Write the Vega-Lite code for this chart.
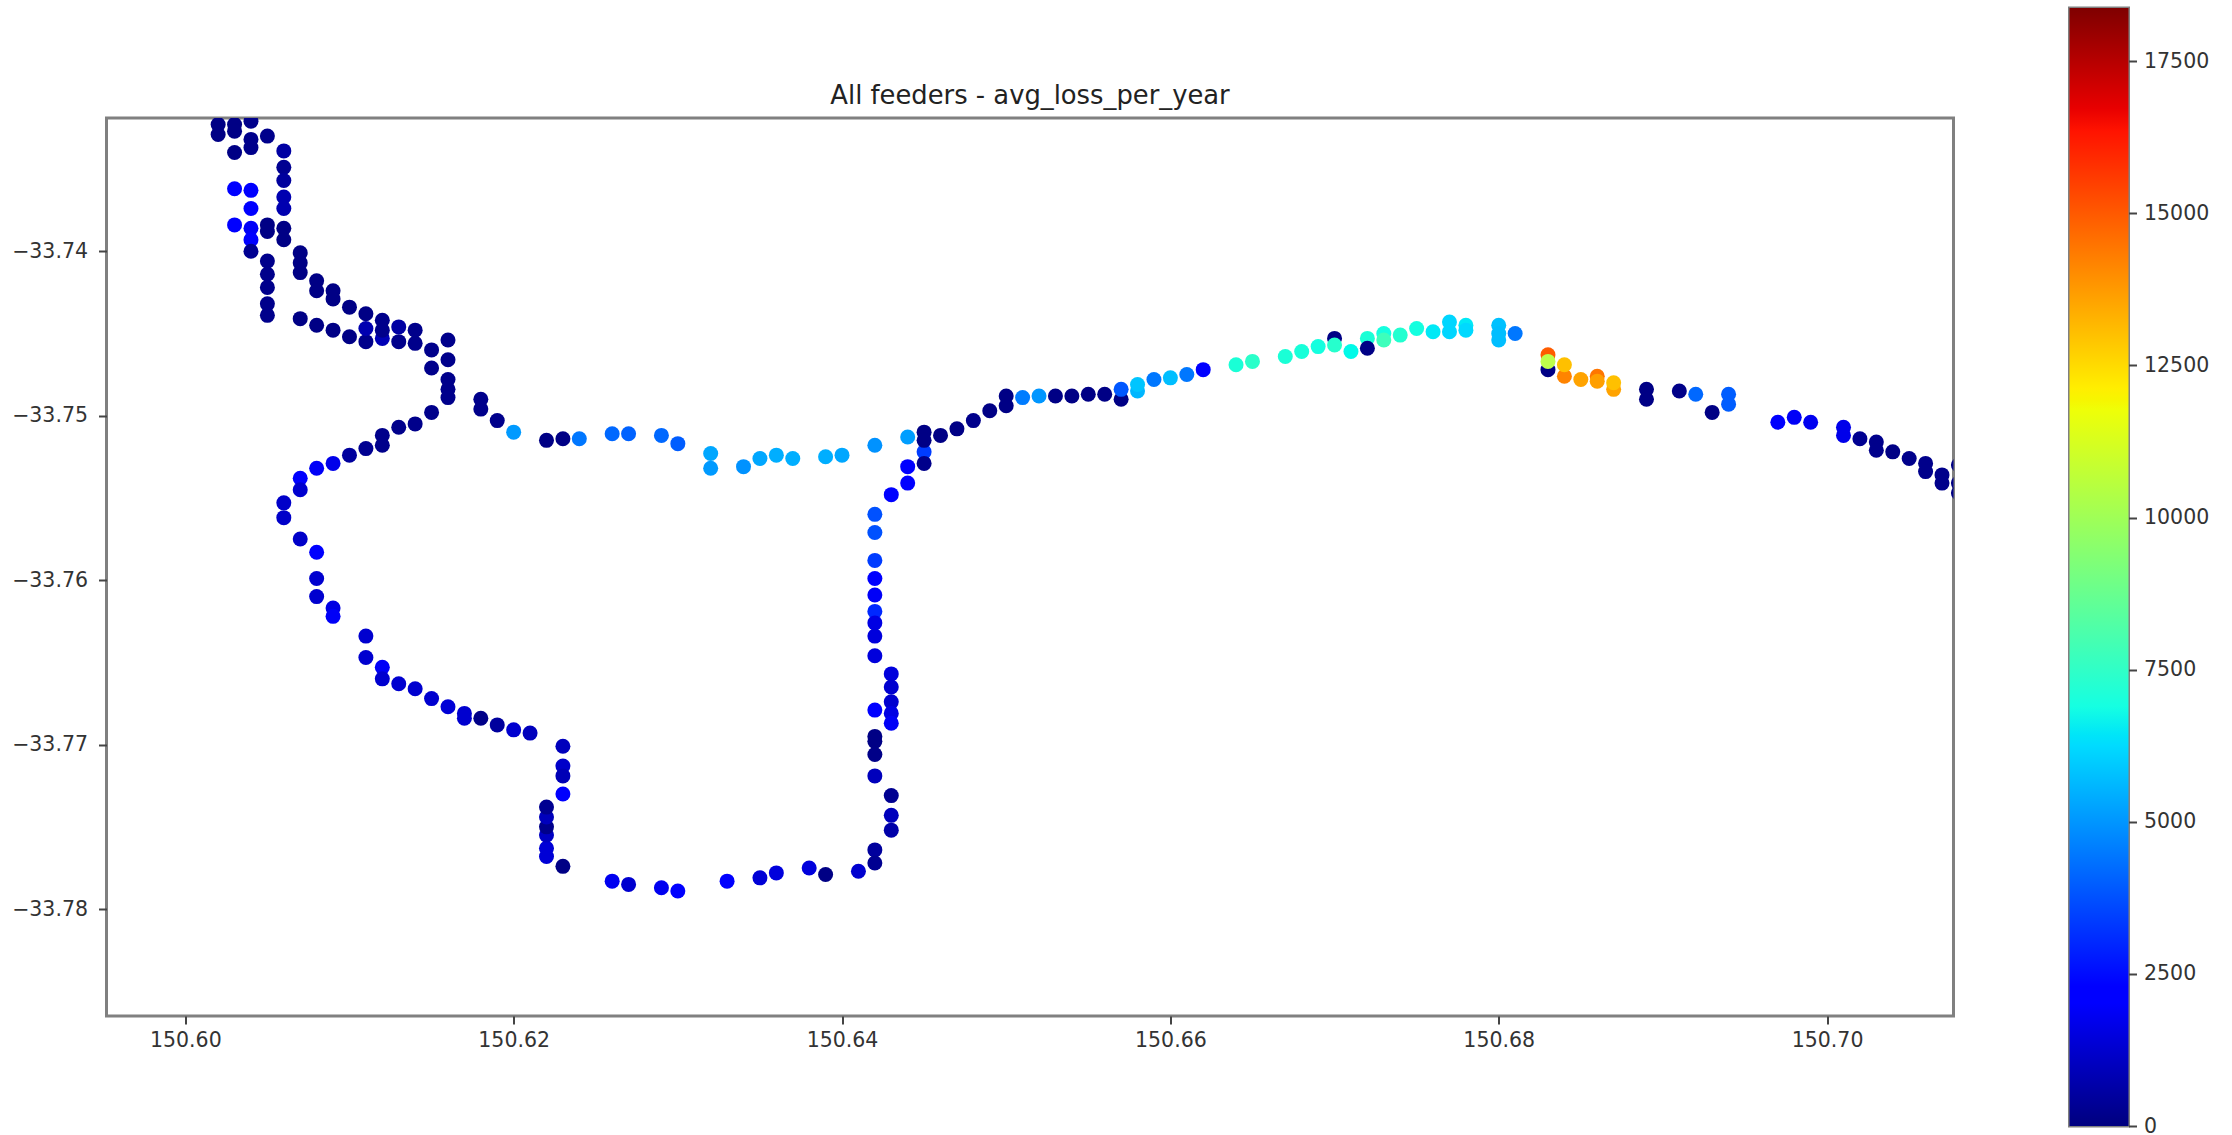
{"$schema":"https://vega.github.io/schema/vega-lite/v6.json","background":"white","padding":{"left":9.5,"top":6,"right":0,"bottom":0},"bounds":"flush","spacing":116,"center":true,"config":{"font":"DejaVu Sans","view":{"stroke":"#808080","strokeWidth":3},"axis":{"grid":false,"domain":false,"tickColor":"#444","tickWidth":2,"tickSize":8,"labelFontSize":20.5,"labelColor":"#333","labelFont":"DejaVu Sans","title":null,"labelPadding":7}},"hconcat":[{"width":1847,"height":898,"title":{"text":"All feeders - avg_loss_per_year","fontSize":25.8,"fontWeight":"normal","font":"DejaVu Sans","color":"#222","anchor":"middle","offset":8},"data":{"name":"pts"},"mark":{"type":"circle","size":225,"opacity":1,"clip":true},"encoding":{"x":{"field":"lon","type":"quantitative","scale":{"domain":[150.5952,150.7077],"nice":false,"zero":false},"axis":{"values":[150.6,150.62,150.64,150.66,150.68,150.7],"format":".2f","labelPadding":6}},"y":{"field":"lat","type":"quantitative","scale":{"domain":[-33.7865,-33.7319],"nice":false,"zero":false},"axis":{"values":[-33.74,-33.75,-33.76,-33.77,-33.78],"format":".2f","labelPadding":11}},"color":{"field":"loss","type":"quantitative","legend":null,"scale":{"domain":[0,2021,2297,6248,6431,6891,11760,11944,12128,16354,16721,18375],"range":["#00007f","#0000ff","#0000ff","#00dbff","#00e5f8","#15ffe2","#eeff08","#f7f500","#ffee00","#ff1300","#e80000","#7f0000"]}}}},{"width":59,"height":1118,"data":{"values":[{"lo":0,"hi":18375}]},"mark":{"type":"rect","fill":{"gradient":"linear","x1":0,"y1":1,"x2":0,"y2":0,"stops":[{"offset":0,"color":"#00007f"},{"offset":0.11,"color":"#0000ff"},{"offset":0.125,"color":"#0000ff"},{"offset":0.34,"color":"#00dbff"},{"offset":0.35,"color":"#00e5f8"},{"offset":0.375,"color":"#15ffe2"},{"offset":0.64,"color":"#eeff08"},{"offset":0.65,"color":"#f7f500"},{"offset":0.66,"color":"#ffee00"},{"offset":0.89,"color":"#ff1300"},{"offset":0.91,"color":"#e80000"},{"offset":1,"color":"#7f0000"}]}},"encoding":{"y":{"field":"lo","type":"quantitative","scale":{"domain":[0,18375],"nice":false,"zero":false},"axis":{"orient":"right","values":[0,2500,5000,7500,10000,12500,15000,17500],"format":"d"}},"y2":{"field":"hi"}}}],"datasets":{"pts":[
{"lon":150.602,"lat":-33.7323,"loss":100},{"lon":150.602,"lat":-33.7329,"loss":100},{"lon":150.603,"lat":-33.7323,"loss":100},{"lon":150.603,"lat":-33.7327,"loss":100},{"lon":150.603,"lat":-33.734,"loss":100},{"lon":150.603,"lat":-33.7362,"loss":2200},{"lon":150.603,"lat":-33.7384,"loss":2100},
{"lon":150.604,"lat":-33.7321,"loss":200},{"lon":150.604,"lat":-33.7332,"loss":200},{"lon":150.604,"lat":-33.7337,"loss":200},{"lon":150.604,"lat":-33.7363,"loss":2100},{"lon":150.604,"lat":-33.7374,"loss":2100},{"lon":150.604,"lat":-33.7386,"loss":1900},{"lon":150.604,"lat":-33.7393,"loss":2100},{"lon":150.604,"lat":-33.74,"loss":300},
{"lon":150.605,"lat":-33.733,"loss":200},{"lon":150.605,"lat":-33.7384,"loss":100},{"lon":150.605,"lat":-33.7388,"loss":100},{"lon":150.605,"lat":-33.7406,"loss":200},{"lon":150.605,"lat":-33.7414,"loss":200},{"lon":150.605,"lat":-33.7422,"loss":200},{"lon":150.605,"lat":-33.7432,"loss":200},{"lon":150.605,"lat":-33.7439,"loss":200},
{"lon":150.606,"lat":-33.7339,"loss":600},{"lon":150.606,"lat":-33.7349,"loss":300},{"lon":150.606,"lat":-33.7357,"loss":500},{"lon":150.606,"lat":-33.7367,"loss":800},{"lon":150.606,"lat":-33.7374,"loss":800},{"lon":150.606,"lat":-33.7386,"loss":100},{"lon":150.606,"lat":-33.7393,"loss":100},
{"lon":150.607,"lat":-33.7401,"loss":100},{"lon":150.607,"lat":-33.7407,"loss":100},{"lon":150.607,"lat":-33.7413,"loss":100},{"lon":150.607,"lat":-33.7441,"loss":100},{"lon":150.608,"lat":-33.7418,"loss":100},{"lon":150.608,"lat":-33.7424,"loss":100},{"lon":150.608,"lat":-33.7445,"loss":100},{"lon":150.609,"lat":-33.7424,"loss":100},{"lon":150.609,"lat":-33.7429,"loss":100},{"lon":150.609,"lat":-33.7448,"loss":100},
{"lon":150.61,"lat":-33.7434,"loss":100},{"lon":150.61,"lat":-33.7452,"loss":100},{"lon":150.611,"lat":-33.7438,"loss":100},{"lon":150.611,"lat":-33.7455,"loss":200},{"lon":150.611,"lat":-33.7447,"loss":800},{"lon":150.612,"lat":-33.7453,"loss":900},{"lon":150.612,"lat":-33.7442,"loss":200},{"lon":150.612,"lat":-33.7448,"loss":200},{"lon":150.613,"lat":-33.7455,"loss":200},{"lon":150.613,"lat":-33.7446,"loss":600},{"lon":150.614,"lat":-33.7448,"loss":200},{"lon":150.614,"lat":-33.7456,"loss":200},
{"lon":150.615,"lat":-33.746,"loss":200},{"lon":150.615,"lat":-33.7471,"loss":200},{"lon":150.616,"lat":-33.7454,"loss":200},{"lon":150.616,"lat":-33.7466,"loss":200},{"lon":150.616,"lat":-33.7478,"loss":200},{"lon":150.616,"lat":-33.7484,"loss":200},{"lon":150.616,"lat":-33.7489,"loss":200},{"lon":150.618,"lat":-33.749,"loss":200},{"lon":150.618,"lat":-33.7496,"loss":200},{"lon":150.619,"lat":-33.7503,"loss":200},
{"lon":150.62,"lat":-33.751,"loss":4500},{"lon":150.622,"lat":-33.7515,"loss":100},{"lon":150.623,"lat":-33.7514,"loss":100},{"lon":150.624,"lat":-33.7514,"loss":3700},{"lon":150.626,"lat":-33.7511,"loss":3400},{"lon":150.627,"lat":-33.7511,"loss":3300},{"lon":150.629,"lat":-33.7512,"loss":3400},{"lon":150.63,"lat":-33.7517,"loss":3200},{"lon":150.632,"lat":-33.7523,"loss":4800},{"lon":150.632,"lat":-33.7532,"loss":4500},{"lon":150.634,"lat":-33.7531,"loss":4300},{"lon":150.635,"lat":-33.7526,"loss":4800},{"lon":150.636,"lat":-33.7524,"loss":5000},{"lon":150.637,"lat":-33.7526,"loss":5000},{"lon":150.639,"lat":-33.7525,"loss":5000},{"lon":150.64,"lat":-33.7524,"loss":4800},{"lon":150.642,"lat":-33.7518,"loss":4300},{"lon":150.644,"lat":-33.7513,"loss":4600},
{"lon":150.645,"lat":-33.7522,"loss":2700},{"lon":150.645,"lat":-33.751,"loss":100},{"lon":150.645,"lat":-33.7515,"loss":100},{"lon":150.645,"lat":-33.7529,"loss":200},{"lon":150.646,"lat":-33.7512,"loss":100},{"lon":150.647,"lat":-33.7508,"loss":100},{"lon":150.648,"lat":-33.7503,"loss":200},{"lon":150.649,"lat":-33.7497,"loss":100},
{"lon":150.644,"lat":-33.7531,"loss":2200},{"lon":150.644,"lat":-33.7541,"loss":2200},{"lon":150.643,"lat":-33.7548,"loss":2300},{"lon":150.642,"lat":-33.756,"loss":3000},{"lon":150.642,"lat":-33.7571,"loss":3000},{"lon":150.642,"lat":-33.7588,"loss":2700},{"lon":150.642,"lat":-33.7599,"loss":2100},{"lon":150.642,"lat":-33.7609,"loss":1900},{"lon":150.642,"lat":-33.7619,"loss":2500},{"lon":150.642,"lat":-33.7626,"loss":1600},{"lon":150.642,"lat":-33.7634,"loss":1500},{"lon":150.642,"lat":-33.7646,"loss":1500},
{"lon":150.643,"lat":-33.7657,"loss":1500},{"lon":150.643,"lat":-33.7665,"loss":1300},{"lon":150.643,"lat":-33.7674,"loss":1300},{"lon":150.643,"lat":-33.7681,"loss":1600},{"lon":150.643,"lat":-33.7687,"loss":1900},{"lon":150.642,"lat":-33.7679,"loss":2200},{"lon":150.642,"lat":-33.7695,"loss":100},{"lon":150.642,"lat":-33.7698,"loss":100},{"lon":150.642,"lat":-33.7706,"loss":150},{"lon":150.642,"lat":-33.7719,"loss":1000},{"lon":150.643,"lat":-33.7731,"loss":300},{"lon":150.643,"lat":-33.7743,"loss":1000},{"lon":150.643,"lat":-33.7752,"loss":700},{"lon":150.642,"lat":-33.7764,"loss":500},{"lon":150.642,"lat":-33.7772,"loss":300},{"lon":150.641,"lat":-33.7777,"loss":1300},{"lon":150.639,"lat":-33.7779,"loss":100},{"lon":150.638,"lat":-33.7775,"loss":1500},{"lon":150.636,"lat":-33.7778,"loss":1500},{"lon":150.635,"lat":-33.7781,"loss":1400},{"lon":150.633,"lat":-33.7783,"loss":2000},{"lon":150.63,"lat":-33.7789,"loss":2100},{"lon":150.629,"lat":-33.7787,"loss":1800},{"lon":150.627,"lat":-33.7785,"loss":1300},{"lon":150.626,"lat":-33.7783,"loss":1800},{"lon":150.623,"lat":-33.7774,"loss":100},
{"lon":150.622,"lat":-33.7768,"loss":1400},{"lon":150.622,"lat":-33.7763,"loss":1400},{"lon":150.622,"lat":-33.7755,"loss":1100},{"lon":150.622,"lat":-33.775,"loss":200},{"lon":150.622,"lat":-33.7744,"loss":1000},{"lon":150.622,"lat":-33.7738,"loss":300},{"lon":150.623,"lat":-33.7701,"loss":1000},{"lon":150.623,"lat":-33.7713,"loss":1200},{"lon":150.623,"lat":-33.7719,"loss":900},{"lon":150.623,"lat":-33.773,"loss":2000},
{"lon":150.615,"lat":-33.7498,"loss":200},{"lon":150.614,"lat":-33.7505,"loss":200},{"lon":150.613,"lat":-33.7507,"loss":200},{"lon":150.612,"lat":-33.7512,"loss":200},{"lon":150.612,"lat":-33.7518,"loss":200},{"lon":150.611,"lat":-33.752,"loss":300},{"lon":150.61,"lat":-33.7524,"loss":500},{"lon":150.609,"lat":-33.7529,"loss":1700},{"lon":150.608,"lat":-33.7532,"loss":1900},{"lon":150.607,"lat":-33.7538,"loss":2000},{"lon":150.607,"lat":-33.7545,"loss":1300},{"lon":150.606,"lat":-33.7553,"loss":1200},{"lon":150.606,"lat":-33.7562,"loss":1200},{"lon":150.607,"lat":-33.7575,"loss":1200},{"lon":150.608,"lat":-33.7583,"loss":2000},{"lon":150.608,"lat":-33.7599,"loss":1300},{"lon":150.608,"lat":-33.761,"loss":1300},{"lon":150.609,"lat":-33.7617,"loss":1600},{"lon":150.609,"lat":-33.7622,"loss":1900},{"lon":150.611,"lat":-33.7634,"loss":1300},{"lon":150.611,"lat":-33.7647,"loss":1300},{"lon":150.612,"lat":-33.7653,"loss":1900},{"lon":150.612,"lat":-33.766,"loss":1300},{"lon":150.613,"lat":-33.7663,"loss":1300},{"lon":150.614,"lat":-33.7666,"loss":1300},{"lon":150.615,"lat":-33.7672,"loss":1300},{"lon":150.616,"lat":-33.7677,"loss":1400},{"lon":150.617,"lat":-33.7681,"loss":1300},{"lon":150.617,"lat":-33.7684,"loss":1300},{"lon":150.618,"lat":-33.7684,"loss":150},{"lon":150.619,"lat":-33.7688,"loss":500},{"lon":150.62,"lat":-33.7691,"loss":1300},{"lon":150.621,"lat":-33.7693,"loss":1000},
{"lon":150.65,"lat":-33.7488,"loss":100},{"lon":150.65,"lat":-33.7494,"loss":100},{"lon":150.651,"lat":-33.7489,"loss":3800},{"lon":150.652,"lat":-33.7488,"loss":4400},{"lon":150.653,"lat":-33.7488,"loss":100},{"lon":150.654,"lat":-33.7488,"loss":100},{"lon":150.655,"lat":-33.7487,"loss":100},{"lon":150.656,"lat":-33.7487,"loss":100},{"lon":150.657,"lat":-33.749,"loss":100},{"lon":150.657,"lat":-33.7484,"loss":3100},{"lon":150.658,"lat":-33.7485,"loss":5200},{"lon":150.658,"lat":-33.7481,"loss":5600},{"lon":150.659,"lat":-33.7478,"loss":3700},{"lon":150.66,"lat":-33.7477,"loss":5400},{"lon":150.661,"lat":-33.7475,"loss":3700},{"lon":150.662,"lat":-33.7472,"loss":2200},{"lon":150.664,"lat":-33.7469,"loss":7300},{"lon":150.665,"lat":-33.7467,"loss":7700},{"lon":150.667,"lat":-33.7464,"loss":7300},{"lon":150.668,"lat":-33.7461,"loss":7200},{"lon":150.669,"lat":-33.7458,"loss":7000},{"lon":150.67,"lat":-33.7453,"loss":100},{"lon":150.67,"lat":-33.7457,"loss":7600},{"lon":150.671,"lat":-33.7461,"loss":6800},{"lon":150.672,"lat":-33.7453,"loss":7300},{"lon":150.672,"lat":-33.7459,"loss":100},{"lon":150.673,"lat":-33.745,"loss":7000},{"lon":150.673,"lat":-33.7454,"loss":8100},{"lon":150.674,"lat":-33.7451,"loss":7500},{"lon":150.675,"lat":-33.7447,"loss":7000},{"lon":150.676,"lat":-33.7449,"loss":6500},{"lon":150.677,"lat":-33.7443,"loss":6100},{"lon":150.677,"lat":-33.7449,"loss":6100},{"lon":150.678,"lat":-33.7445,"loss":6500},{"lon":150.678,"lat":-33.7448,"loss":6200},
{"lon":150.68,"lat":-33.7445,"loss":5500},{"lon":150.68,"lat":-33.745,"loss":5400},{"lon":150.68,"lat":-33.7454,"loss":5400},{"lon":150.681,"lat":-33.745,"loss":3700},{"lon":150.683,"lat":-33.7463,"loss":15500},{"lon":150.683,"lat":-33.7472,"loss":100},{"lon":150.683,"lat":-33.7467,"loss":10800},{"lon":150.684,"lat":-33.7476,"loss":14700},{"lon":150.684,"lat":-33.7469,"loss":13300},{"lon":150.685,"lat":-33.7478,"loss":14000},{"lon":150.686,"lat":-33.7476,"loss":15000},{"lon":150.686,"lat":-33.7479,"loss":14100},{"lon":150.687,"lat":-33.7484,"loss":14000},{"lon":150.687,"lat":-33.748,"loss":13300},{"lon":150.689,"lat":-33.7484,"loss":100},{"lon":150.689,"lat":-33.749,"loss":100},{"lon":150.691,"lat":-33.7485,"loss":150},{"lon":150.692,"lat":-33.7487,"loss":3400},{"lon":150.693,"lat":-33.7498,"loss":100},{"lon":150.694,"lat":-33.7487,"loss":3200},{"lon":150.694,"lat":-33.7493,"loss":3200},{"lon":150.697,"lat":-33.7504,"loss":2000},{"lon":150.698,"lat":-33.7501,"loss":1900},{"lon":150.699,"lat":-33.7504,"loss":1800},{"lon":150.701,"lat":-33.7507,"loss":1700},{"lon":150.701,"lat":-33.7512,"loss":1700},{"lon":150.702,"lat":-33.7514,"loss":300},{"lon":150.703,"lat":-33.7516,"loss":200},{"lon":150.703,"lat":-33.7521,"loss":200},{"lon":150.704,"lat":-33.7522,"loss":100},{"lon":150.705,"lat":-33.7526,"loss":200},{"lon":150.706,"lat":-33.7529,"loss":200},{"lon":150.706,"lat":-33.7534,"loss":200},{"lon":150.707,"lat":-33.7536,"loss":200},{"lon":150.707,"lat":-33.7541,"loss":200},{"lon":150.708,"lat":-33.753,"loss":100},{"lon":150.708,"lat":-33.7541,"loss":100},{"lon":150.708,"lat":-33.7547,"loss":100}
]}}
